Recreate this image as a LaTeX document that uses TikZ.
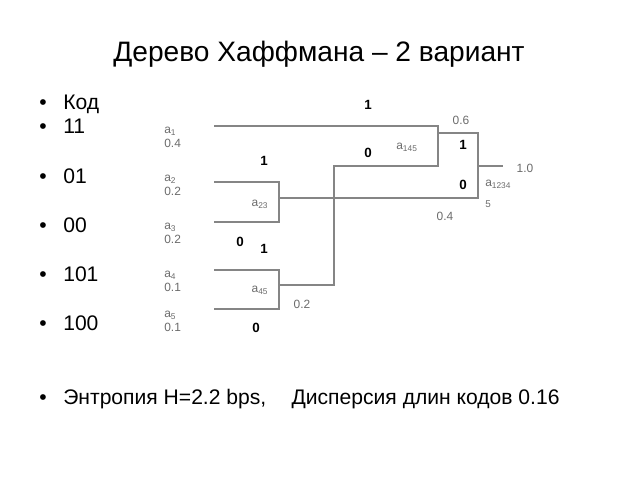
\documentclass[tikz,border=0pt]{standalone}
\usepackage{fontspec}
\setmainfont{Liberation Sans}
\usetikzlibrary{positioning}
\definecolor{linegray}{gray}{0.52}
\definecolor{labelgray}{gray}{0.42}

\tikzset{
	branch/.style={linegray, line width=0.75pt},
	leaf/.style={labelgray, font=\fontsize{8.5}{10}\selectfont, align=left, inner sep=0pt},
	weight/.style={labelgray, font=\fontsize{8.5}{10}\selectfont, inner sep=0pt},
	bit/.style={font=\bfseries\fontsize{9.5}{10}\selectfont, inner sep=0pt},
	item/.style={font=\fontsize{15}{18}\selectfont, anchor=base west, inner sep=0pt},
	dot/.style={font=\fontsize{15}{18}\selectfont, anchor=base, inner sep=0pt}
}

\begin{document}
\begin{tikzpicture}[x=0.025cm, y=-0.025cm]
		\useasboundingbox (0,0) rectangle (640,480);
		
		% title
		\node[font=\fontsize{20}{24}\selectfont, anchor=base, inner sep=0pt] (title) at (319,62) {Дерево Хаффмана – 2 вариант};
		
		% list of codes
		\node[dot] (d0) at (43,109) {•};
		\node[item] (kod) at (63,109) {Код};
		\node[dot] (d1) at (43,133) {•};
		\node[item] (k1) at (63,133) {11};
		\node[dot] (d2) at (43,183) {•};
		\node[item] (k2) at (63,183) {01};
		\node[dot] (d3) at (43,232) {•};
		\node[item] (k3) at (63,232) {00};
		\node[dot] (d4) at (43,281) {•};
		\node[item] (k4) at (63,281) {101};
		\node[dot] (d5) at (43,330) {•};
		\node[item] (k5) at (63,330) {100};
		\node[dot] (d6) at (43,404) {•};
		\node[item] (entr) at (63,404) {Энтропия H=2.2 bps,\hspace{18pt}Дисперсия длин кодов 0.16};
		
		% leaves
		\node[leaf, anchor=west] (a1) at (164,137) {a\textsubscript{1}\\0.4};
		\node[leaf, anchor=west] (a2) at (164,185) {a\textsubscript{2}\\0.2};
		\node[leaf, anchor=west] (a3) at (164,233) {a\textsubscript{3}\\0.2};
		\node[leaf, anchor=west] (a4) at (164,281) {a\textsubscript{4}\\0.1};
		\node[leaf, anchor=west] (a5) at (164,321) {a\textsubscript{5}\\0.1};
		
		\coordinate (l1) at (214,126);
		\coordinate (l2) at (214,182);
		\coordinate (l3) at (214,222);
		\coordinate (l4) at (214,270);
		\coordinate (l5) at (214,309);
		\coordinate (j23) at (279,198);
		\coordinate (j45) at (279,285);
		\coordinate (k45) at (334,166);
		\coordinate (j145) at (438,133);
		\coordinate (jr) at (478,166);
		\coordinate (root) at (503,166);
		
		% tree
		\draw[branch] (l2) -| (j23) |- (l3);
		\draw[branch] (l4) -| (j45) |- (l5);
		\draw[branch] (j45) -| (k45) -| (j145) |- (l1);
		\draw[branch] (j145) -| (jr) |- (j23);
		\draw[branch] (jr) -- (root);
		
		% inner nodes
		\node[leaf] (a23) at (260,204) {a\textsubscript{23}};
		\node[leaf] (a45) at (260,290) {a\textsubscript{45}};
		\node[leaf] (a145) at (407,147) {a\textsubscript{145}};
		\node[leaf, anchor=north west] (a12345) at (485,180) {a\textsubscript{1234}\\[5pt]{\scriptsize 5}};
		
		\node[weight] (w23) at (302,304) {0.2};
		\node[weight] (w145) at (461,120) {0.6};
		\node[weight] (w1234) at (445,216) {0.4};
		\node[weight] (wr) at (525,168) {1.0};
		
		% code bits
		\node[bit] (b1) at (368,105) {1};
		\node[bit] (b0) at (368,153) {0};
		\node[bit] (b2) at (264,161) {1};
		\node[bit] (b3) at (240,242) {0};
		\node[bit] (b4) at (264,249) {1};
		\node[bit] (b5) at (256,328) {0};
		\node[bit] (b6) at (463,145) {1};
		\node[bit] (b7) at (463,185) {0};
	\end{tikzpicture}
\end{document}
